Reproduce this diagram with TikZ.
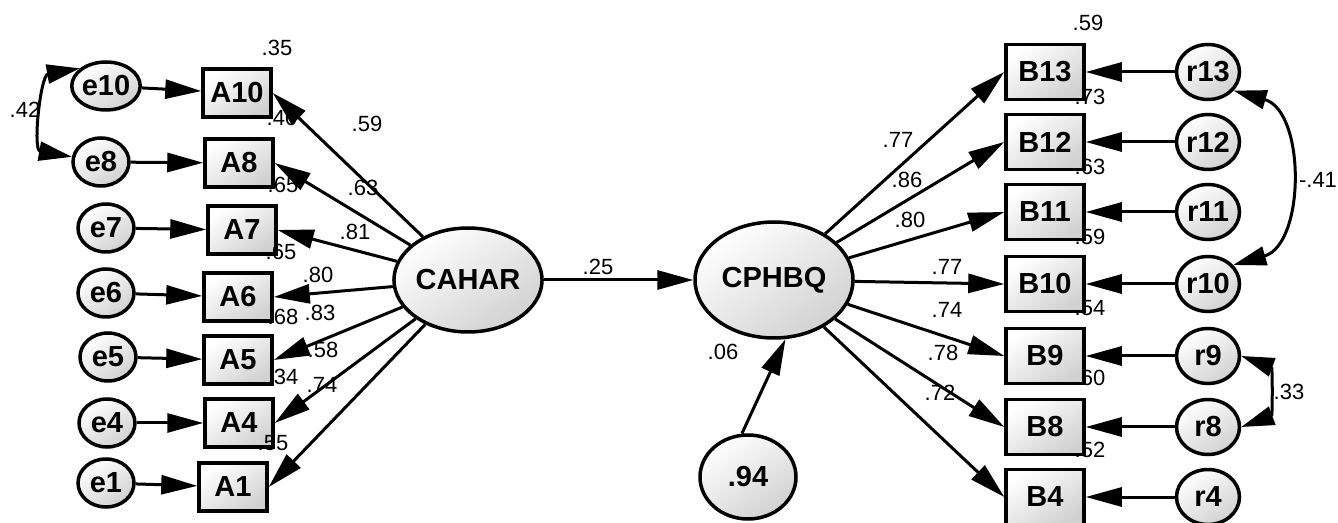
\documentclass[tikz,border=0pt]{standalone}
\usepackage{fontspec}
\setmainfont{Liberation Sans}
\usetikzlibrary{arrows.meta, shapes.geometric}

\tikzset{
  shadefill/.style={top color=white, bottom color=black!18, shading angle=35},
  obsA/.style={draw, line width=3.5pt, rectangle, shadefill, inner sep=0pt,
    minimum width=68pt, minimum height=48pt, font=\fontsize{29}{32}\selectfont\bfseries},
  obsB/.style={obsA, minimum width=78pt, minimum height=55pt},
  errA/.style={draw, line width=3.5pt, ellipse, shadefill, inner sep=0pt,
    minimum width=56pt, minimum height=48pt, font=\fontsize{29}{32}\selectfont\bfseries},
  errB/.style={errA, minimum width=63pt, minimum height=55pt},
  latent/.style={draw, line width=3.5pt, ellipse, shadefill, inner sep=0pt,
    font=\fontsize{29}{32}\selectfont\bfseries},
  num/.style={inner sep=0pt, font=\fontsize{22}{24}\selectfont},
  loadarrow/.style={line width=3pt, -{Triangle[length=36pt,width=19pt]}},
  covarrow/.style={line width=3pt,
    {Triangle[length=33pt,width=19pt]}-{Triangle[length=33pt,width=19pt]}},
}

\begin{document}
\begin{tikzpicture}[x=1pt, y=1pt]
\useasboundingbox (0,0) rectangle (1338,522);

% latent variables
\node [latent, minimum width=140pt, minimum height=104pt] (cahar) at (468,242) {CAHAR};
\node [latent, minimum width=158pt, minimum height=116pt] (cphbq) at (774,242) {CPHBQ};
\node [latent, minimum width=96pt, minimum height=84pt] (res) at (748,45) {.94};

% left side: errors and items
\node [errA] (e10) at (106,436) {e10};
\node [errA] (e8) at (101,360) {e8};
\node [errA] (e7) at (106,294) {e7};
\node [errA] (e6) at (106,229) {e6};
\node [errA] (e5) at (108,165) {e5};
\node [errA] (e4) at (107,99) {e4};
\node [errA] (e1) at (106,39) {e1};

\node [obsA] (A10) at (237,429) {A10};
\node [obsA] (A8) at (239,359) {A8};
\node [obsA] (A7) at (242,292) {A7};
\node [obsA] (A6) at (238,225) {A6};
\node [obsA] (A5) at (238,162) {A5};
\node [obsA] (A4) at (239,99) {A4};
\node [obsA] (A1) at (233,35) {A1};

% right side: items and errors
\node [obsB] (B13) at (1045,450) {B13};
\node [obsB] (B12) at (1045,380) {B12};
\node [obsB] (B11) at (1045,310) {B11};
\node [obsB] (B10) at (1045,238) {B10};
\node [obsB] (B9) at (1045,166) {B9};
\node [obsB] (B8) at (1045,95) {B8};
\node [obsB] (B4) at (1045,25) {B4};

\node [errB] (r13) at (1208,450) {r13};
\node [errB] (r12) at (1208,380) {r12};
\node [errB] (r11) at (1208,310) {r11};
\node [errB] (r10) at (1208,238) {r10};
\node [errB] (r9) at (1208,166) {r9};
\node [errB] (r8) at (1208,95) {r8};
\node [errB] (r4) at (1208,25) {r4};

% squared multiple correlations
\node [num] (sqA10) at (277,474) {.35};
\node [num] (sqA8) at (282,404) {.40};
\node [num] (sqA7) at (283,337) {.65};
\node [num] (sqA6) at (281,270) {.65};
\node [num] (sqA5) at (283,205) {.68};
\node [num] (sqA4) at (283,145) {.34};
\node [num] (sqA1) at (273,79) {.55};

\node [num] (sqB13) at (1088,499) {.59};
\node [num] (sqB12) at (1090,425) {.73};
\node [num] (sqB11) at (1090,355) {.63};
\node [num] (sqB10) at (1090,285) {.59};
\node [num] (sqB9) at (1090,214) {.54};
\node [num] (sqB8) at (1090,144) {.60};
\node [num] (sqB4) at (1090,72) {.52};

% loadings and paths
\node [num] (ldA10) at (367,398) {.59};
\node [num] (ldA8) at (363,334) {.63};
\node [num] (ldA7) at (355,290) {.81};
\node [num] (ldA6) at (318,247) {.80};
\node [num] (ldA5) at (320,209) {.83};
\node [num] (ldA4) at (323,172) {.58};
\node [num] (ldA1) at (322,137) {.74};

\node [num] (ldB13) at (898,382) {.77};
\node [num] (ldB12) at (907,342) {.86};
\node [num] (ldB11) at (910,302) {.80};
\node [num] (ldB10) at (947,255) {.77};
\node [num] (ldB9) at (947,212) {.74};
\node [num] (ldB8) at (943,169) {.78};
\node [num] (ldB4) at (940,129) {.72};

\node [num] (beta) at (598,255) {.25};
\node [num] (rsq) at (723,170) {.06};

% covariances
\node [num] (cv1) at (25,412) {.42};
\node [num] (cv2) at (1318,342) {-.41};
\node [num] (cv3) at (1289,130) {.33};

% arrows
\draw [loadarrow] (e10) -- (A10);
\draw [loadarrow] (e8) -- (A8);
\draw [loadarrow] (e7) -- (A7);
\draw [loadarrow] (e6) -- (A6);
\draw [loadarrow] (e5) -- (A5);
\draw [loadarrow] (e4) -- (A4);
\draw [loadarrow] (e1) -- (A1);

\draw [loadarrow] (cahar) -- (A10.east);
\draw [loadarrow] (cahar) -- (A8.east);
\draw [loadarrow] (cahar) -- (A7.east);
\draw [loadarrow] (cahar) -- (A6.east);
\draw [loadarrow] (cahar) -- (A5.east);
\draw [loadarrow] (cahar) -- (A4.east);
\draw [loadarrow] (cahar) -- (A1.east);

\draw [loadarrow] (cahar) -- (cphbq);
\draw [loadarrow] (res.98) -- (cphbq.-79);

\draw [loadarrow] (cphbq) -- (B13.west);
\draw [loadarrow] (cphbq) -- (B12.west);
\draw [loadarrow] (cphbq) -- (B11.west);
\draw [loadarrow] (cphbq) -- (B10.west);
\draw [loadarrow] (cphbq) -- (B9.west);
\draw [loadarrow] (cphbq) -- (B8.west);
\draw [loadarrow] (cphbq) -- (B4.west);

\draw [loadarrow] (r13) -- (B13);
\draw [loadarrow] (r12) -- (B12);
\draw [loadarrow] (r11) -- (B11);
\draw [loadarrow] (r10) -- (B10);
\draw [loadarrow] (r9) -- (B9);
\draw [loadarrow] (r8) -- (B8);
\draw [loadarrow] (r4) -- (B4);

\draw [covarrow] (e10.146) to[out=190, in=170, looseness=1.15] (e8.170);
\draw [covarrow] (r13.-36) to[out=-16, in=16, looseness=1.1] (r10.37);
\draw [covarrow] (r9.east) to[out=-20, in=20, looseness=1.2] (r8.east);
\end{tikzpicture}
\end{document}
